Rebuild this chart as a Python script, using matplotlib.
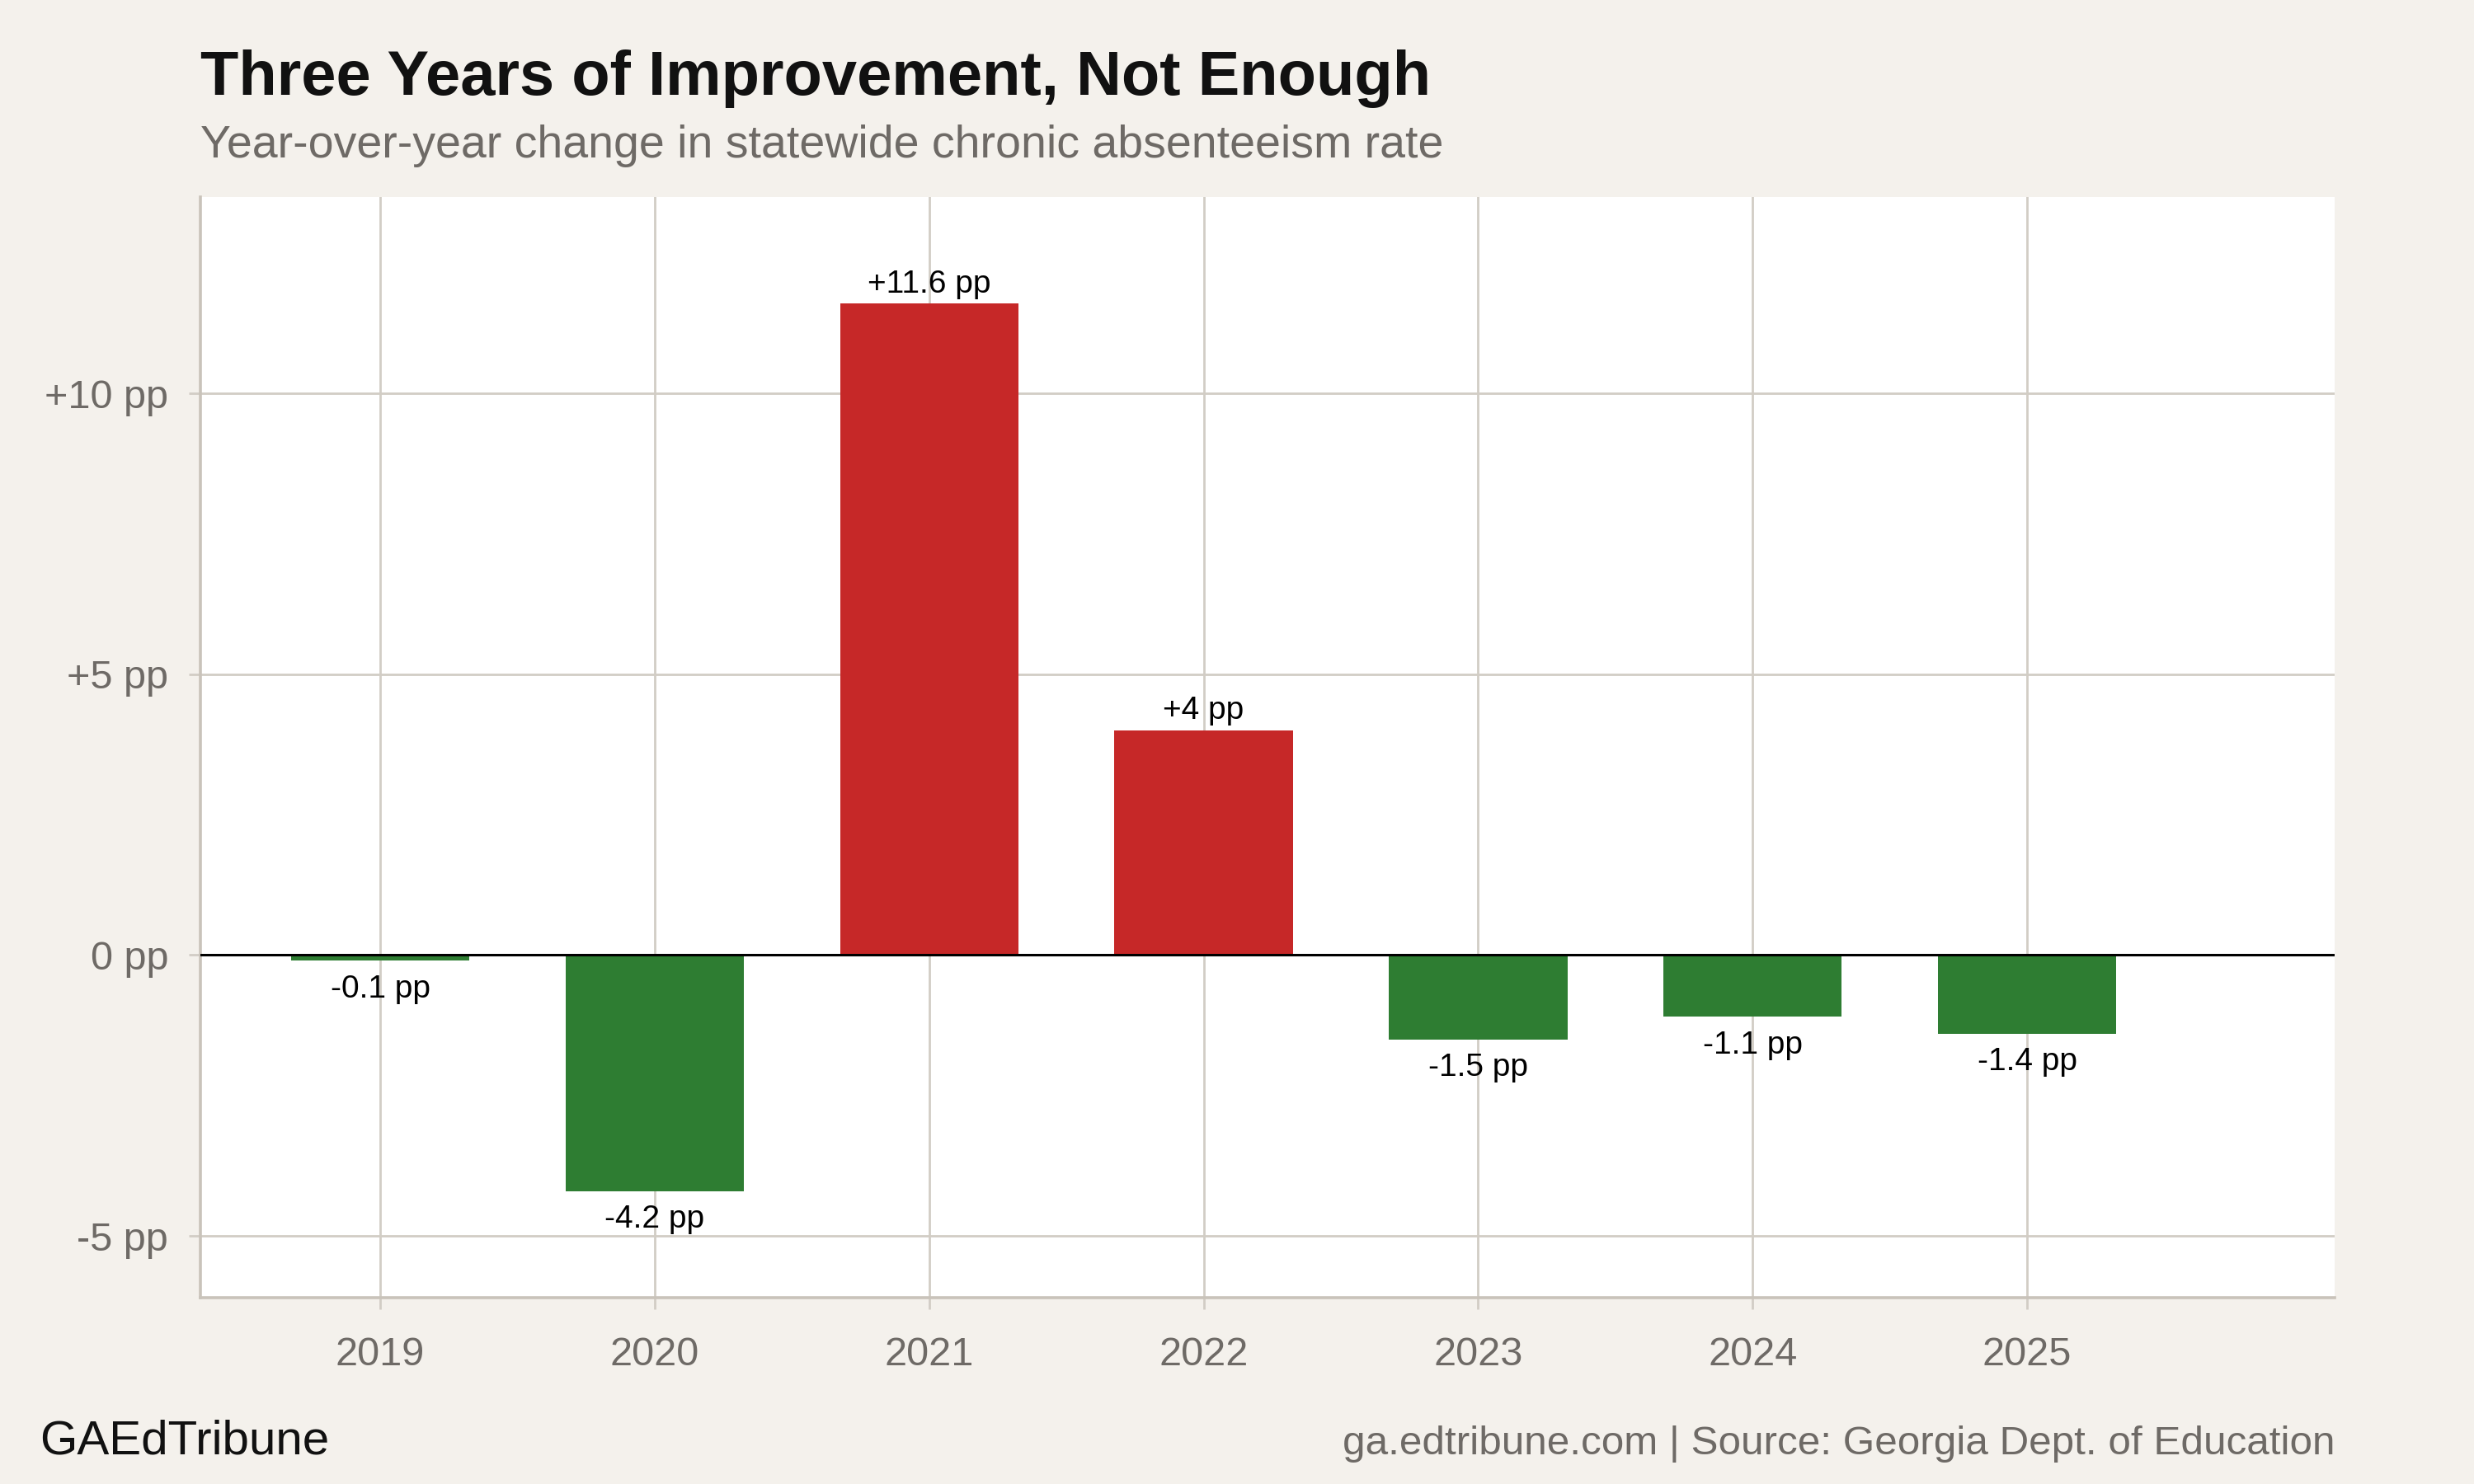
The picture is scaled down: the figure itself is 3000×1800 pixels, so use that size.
import matplotlib
matplotlib.use("Agg")
import matplotlib.pyplot as plt

# ------------------------------------------
# Data
# ------------------------------------------

years = ["2019", "2020", "2021", "2022", "2023", "2024", "2025"]
change_pp = [-0.1, -4.2, 11.6, 4.0, -1.5, -1.1, -1.4]
ytick_values = [-5, 0, 5, 10]
ytick_labels = ["-5 pp", "0 pp", "+5 pp", "+10 pp"]

RED = "#C62828"
GREEN = "#2E7D32"
BG = "#F4F1EC"
GRID = "#D2CDC5"
GRAY_TEXT = "#6E6A66"

plt.rcParams["font.family"] = ["Liberation Sans", "DejaVu Sans"]

# ------------------------------------------
# Figure
# ------------------------------------------

fig = plt.figure(figsize=(15, 9), dpi=200, facecolor=BG)
ax = fig.add_axes([0.081, 0.1256, 0.8626, 0.7416])
ax.set_facecolor("white")

x = list(range(len(years)))
colors = [RED if v > 0 else GREEN for v in change_pp]
ax.bar(x, change_pp, width=0.65, color=colors, zorder=3)

ax.axhline(0, color="black", linewidth=1.1, zorder=4)

# value labels
for xi, v in zip(x, change_pp):
    label = f"+{v:g} pp" if v > 0 else f"{v:g} pp"
    if v > 0:
        ax.annotate(label, (xi, v), xytext=(0, 2), textcoords="offset points",
                    ha="center", va="bottom", fontsize=14, color="black", zorder=5)
    else:
        ax.annotate(label, (xi, v), xytext=(0, -6), textcoords="offset points",
                    ha="center", va="top", fontsize=14, color="black", zorder=5)

ax.set_xlim(-0.655, 7.12)
ax.set_ylim(-6.1, 13.5)
ax.set_xticks(x)
ax.set_xticklabels(years)
ax.set_yticks(ytick_values)
ax.set_yticklabels(ytick_labels)

ax.grid(True, color=GRID, linewidth=1.0, zorder=0)
ax.tick_params(axis="both", colors=GRID, labelcolor=GRAY_TEXT, labelsize=17.5,
               length=5, width=1.0, direction="out")
ax.tick_params(axis="x", pad=12)
ax.tick_params(axis="y", pad=9)

for side in ["top", "right"]:
    ax.spines[side].set_visible(False)
for side in ["left", "bottom"]:
    ax.spines[side].set_color("#C9C3BA")
    ax.spines[side].set_linewidth(1.3)

# ------------------------------------------
# Titles and footer
# ------------------------------------------

fig.text(0.081, 0.936, "Three Years of Improvement, Not Enough",
         fontsize=27.3, fontweight="bold", color="#111111", ha="left", va="baseline")
fig.text(0.081, 0.894, "Year-over-year change in statewide chronic absenteeism rate",
         fontsize=20, color=GRAY_TEXT, ha="left", va="baseline")

fig.text(0.016, 0.02, "GAEdTribune", fontsize=21, color="#111111",
         ha="left", va="baseline")
fig.text(0.9437, 0.02, "ga.edtribune.com | Source: Georgia Dept. of Education",
         fontsize=17.8, color=GRAY_TEXT, ha="right", va="baseline")

fig.savefig("out.png", dpi=200, facecolor=BG)
